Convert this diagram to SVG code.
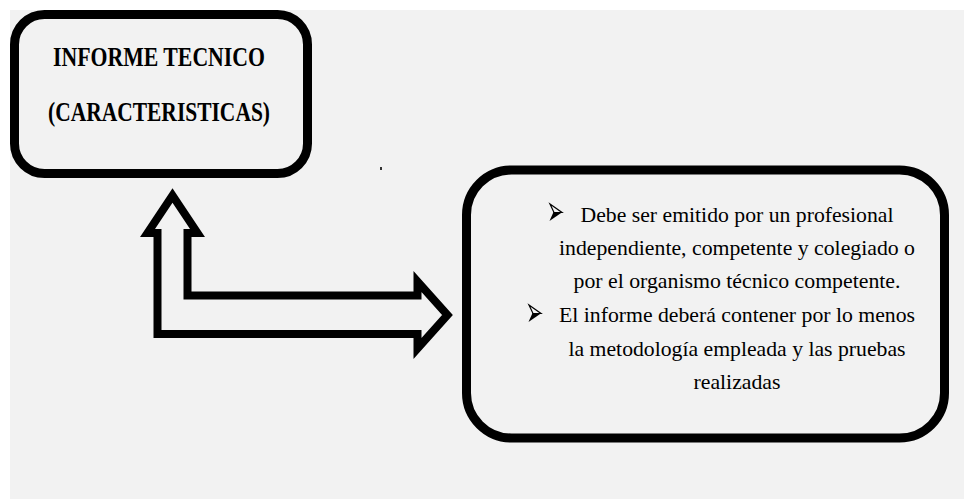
<svg xmlns="http://www.w3.org/2000/svg" width="964" height="499" viewBox="0 0 964 499">
<style>
.box{fill:#f2f2f2;stroke:#000;stroke-width:9}
.title{font-weight:bold;font-size:27px;fill:#000;text-anchor:middle}
.body{font-size:21.5px;fill:#000;text-anchor:middle}
.bul-top{fill:#f2f2f2;stroke:#000;stroke-width:1.2;stroke-linejoin:miter}
.bul-bot{fill:#000}
.arrow{fill:#f2f2f2;stroke:#000;stroke-width:8;stroke-linejoin:miter;stroke-miterlimit:10}
</style>
<defs>
<g id="bullet">
<path class="bul-top" d="M0,0 L12,8.5 L4,8.5 Z"/>
<path class="bul-bot" d="M-0.5,17 L12.5,8 L3.5,8 Z"/>
</g>
</defs>
<rect x="0" y="0" width="964" height="499" fill="#ffffff"/>
<rect x="10" y="10" width="954" height="489" fill="#f2f2f2"/>
<g id="connectors">
<polygon class="arrow" points="172.5,195.5 197.5,233 187.5,233 187.5,295.5 417.5,295.5 417.5,281.5 447.5,315 417.5,348.5 417.5,334 157.5,334 157.5,233 147.5,233"/>
</g>
<g id="node-informe" font-family="Liberation Serif, Times New Roman, serif">
<rect class="box" x="14.5" y="14.5" width="293" height="159" rx="30" ry="30"/>
<text class="title" x="159" y="66" textLength="212" lengthAdjust="spacingAndGlyphs">INFORME TECNICO</text>
<text class="title" x="159" y="121" textLength="222" lengthAdjust="spacingAndGlyphs">(CARACTERISTICAS)</text>
</g>
<g id="node-caracteristicas" font-family="Liberation Serif, Times New Roman, serif">
<rect class="box" x="466.5" y="170" width="478" height="268" rx="45" ry="45"/>
<use href="#bullet" x="550" y="204"/>
<text class="body" x="737" y="222" textLength="313" lengthAdjust="spacingAndGlyphs">Debe ser emitido por un profesional</text>
<text class="body" x="737" y="255" textLength="356" lengthAdjust="spacingAndGlyphs">independiente, competente y colegiado o</text>
<text class="body" x="737" y="288" textLength="327" lengthAdjust="spacingAndGlyphs">por el organismo técnico competente.</text>
<use href="#bullet" x="529" y="305"/>
<text class="body" x="737" y="322" textLength="356" lengthAdjust="spacingAndGlyphs">El informe deberá contener por lo menos</text>
<text class="body" x="737" y="356" textLength="337" lengthAdjust="spacingAndGlyphs">la metodología empleada y las pruebas</text>
<text class="body" x="737" y="389" textLength="87" lengthAdjust="spacingAndGlyphs">realizadas</text>
</g>
<g id="dot">
<rect x="380" y="167" width="2" height="3" fill="#333"/>
</g>
</svg>
